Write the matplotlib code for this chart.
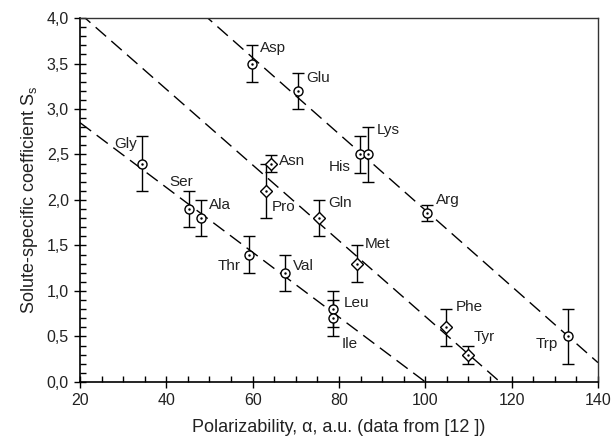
import numpy as np
import matplotlib
matplotlib.use("Agg")
import matplotlib.pyplot as plt
from matplotlib.ticker import MultipleLocator, FuncFormatter

plt.rcParams["font.family"] = ["Liberation Sans", "DejaVu Sans"]
plt.rcParams["mathtext.fontset"] = "custom"
plt.rcParams["mathtext.rm"] = "Liberation Sans"
plt.rcParams["mathtext.it"] = "Liberation Sans:italic"

# group 1: upper line (circles)
names_a = ["Asp", "Glu", "His", "Lys", "Arg", "Trp"]
alpha_a = [59.8, 70.4, 84.9, 86.8, 100.3, 133.1]
ss_a = [3.5, 3.2, 2.5, 2.5, 1.86, 0.5]
err_a = [0.2, 0.2, 0.2, 0.3, 0.09, 0.3]

# group 2: middle line (diamonds)
names_b = ["Asn", "Pro", "Gln", "Met", "Phe", "Tyr"]
alpha_b = [64.2, 63.2, 75.4, 84.1, 104.7, 110.0]
ss_b = [2.4, 2.1, 1.8, 1.3, 0.6, 0.3]
err_b = [0.09, 0.3, 0.2, 0.2, 0.2, 0.1]

# group 3: lower line (circles)
names_c = ["Gly", "Ser", "Ala", "Thr", "Val", "Leu", "Ile"]
alpha_c = [34.4, 45.3, 48.0, 59.2, 67.5, 78.5, 78.7]
ss_c = [2.4, 1.9, 1.8, 1.4, 1.2, 0.8, 0.7]
err_c = [0.3, 0.2, 0.2, 0.2, 0.2, 0.2, 0.2]

# fitted lines: intercept, slope
line_intercepts = [6.078, 4.882, 3.5625]
line_slopes = [-0.0419, -0.04162, -0.035625]

# label placement (pixel offsets, horizontal alignment)
label_pos = {
    "Asp": (8, 16, "left"), "Glu": (9, 13, "left"), "His": (-10, -13, "right"),
    "Lys": (8, 24, "left"), "Arg": (9, 13, "left"), "Trp": (-10, -8, "right"),
    "Asn": (8, 3, "left"), "Pro": (5, -16, "left"), "Gln": (9, 15, "left"),
    "Met": (8, 20, "left"), "Phe": (10, 20, "left"), "Tyr": (5, 18, "left"),
    "Gly": (-5, 20, "right"), "Ser": (-8, 27, "center"), "Ala": (8, 13, "left"),
    "Thr": (-9, -11, "right"), "Val": (8, 7, "left"), "Leu": (11, 6, "left"),
    "Ile": (8, -26, "left"),
}

fig = plt.figure(figsize=(6.13, 4.40), dpi=100)
ax = fig.add_axes([0.1305, 0.132, 0.845, 0.827])

xs = np.array([20, 140])
for b, m in zip(line_intercepts, line_slopes):
    ax.plot(xs, b + m * xs, color="black", lw=1.0, dashes=(10, 5), zorder=1)

groups = [
    (names_a, alpha_a, ss_a, err_a, "o", 6.5),
    (names_b, alpha_b, ss_b, err_b, "D", 6.0),
    (names_c, alpha_c, ss_c, err_c, "o", 6.5),
]
for names, x, y, e, mk, ms in groups:
    ax.errorbar(x, y, yerr=e, fmt="none", ecolor="black", elinewidth=1.0,
                capsize=4, capthick=1.0, zorder=2)
    ax.plot(x, y, linestyle="none", marker=mk, ms=ms, mfc="white",
            mec="black", mew=1.0, zorder=3)
    ax.plot(x, y, linestyle="none", marker=".", ms=1.5, color="black", zorder=4)
    for n, xi, yi in zip(names, x, y):
        dx, dy, ha = label_pos[n]
        ax.annotate(n, (xi, yi), xytext=(dx, dy), textcoords="offset pixels",
                    ha=ha, va="center", fontsize=11, color="#222222")

ax.set_xlim(20, 140)
ax.set_ylim(0, 4.0)
ax.xaxis.set_major_locator(MultipleLocator(20))
ax.xaxis.set_minor_locator(MultipleLocator(5))
ax.yaxis.set_major_locator(MultipleLocator(0.5))
ax.yaxis.set_minor_locator(MultipleLocator(0.1))
ax.yaxis.set_major_formatter(FuncFormatter(lambda v, p: f"{v:.1f}".replace(".", ",")))

ax.tick_params(which="major", direction="inout", length=8, width=1.0,
               labelsize=11.5, pad=4, labelcolor="#222222")
ax.tick_params(which="minor", direction="in", length=4, width=1.0)
ax.tick_params(top=False, right=False)

for s in ["left", "bottom"]:
    ax.spines[s].set_linewidth(1.2)
for s in ["top", "right"]:
    ax.spines[s].set_color("#333333")
    ax.spines[s].set_linewidth(1.0)

ax.set_xlabel("Polarizability, \u03b1, a.u. (data from [12 ])", fontsize=13,
              labelpad=8, color="#222222")
ax.set_ylabel(r"Solute-specific coefficient S$_\mathregular{s}$", fontsize=13,
              labelpad=5, color="#222222")

fig.savefig("out.png", dpi=100)
